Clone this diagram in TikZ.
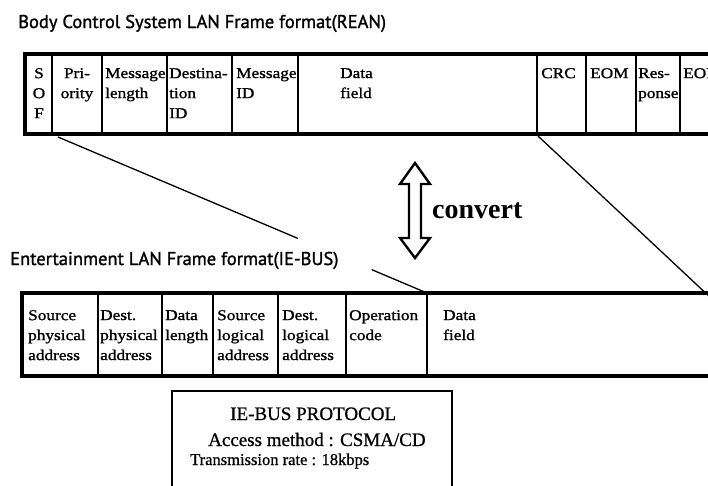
\documentclass[tikz,border=0pt]{standalone}
\usepackage{fontspec}
\setmainfont{Liberation Serif}
\newfontfamily\cellfont[FakeStretch=1.15,FakeBold=1.2]{Liberation Serif}
\newfontfamily\titlefont[FakeBold=1.3]{PT Sans}
\newfontfamily\boxfont[FakeBold=0.8]{Liberation Serif}
\usetikzlibrary{calc}
\begin{document}
\begin{tikzpicture}[x=1pt,y=-1pt,
  outer/.style={line width=3.6pt},
  divider/.style={line width=2pt},
  link/.style={line width=1.3pt},
  celltext/.style={font=\cellfont\fontsize{15}{20}\selectfont, anchor=north west, inner sep=0pt, align=left},
  cellmid/.style={celltext, anchor=north, align=center},
  titletext/.style={font=\titlefont\fontsize{18.5}{20}\selectfont, anchor=base west, inner sep=0pt},
  boxtext/.style={font=\boxfont\fontsize{19}{22}\selectfont, anchor=base west, inner sep=0pt}]
\useasboundingbox (0,0) rectangle (708,485);
\clip (0,0) rectangle (708,485);
\fill[white] (0,0) rectangle (708,485);

% titles
\node[titletext] (t1) at (18,28) {Body Control System LAN Frame format(REAN)};

% top frame (BEAN)
\draw[outer] (715,54) -- (25,54) -- (25,134) -- (715,134);
\foreach \x in {52,102,167,232,298,537,586,636,680}
  \draw[divider] (\x,54) -- (\x,134);
\node[cellmid]  (sof)  at (39,68)  {S\\O\\F};
\node[cellmid]  (pri)  at (77,68)  {Pri-\\ority};
\node[celltext] (mlen) at (105,68) {Message\\length};
\node[celltext] (dest) at (169,68) {Destina-\\tion\\ID};
\node[celltext] (mid)  at (236,68) {Message\\ID};
\node[celltext] (dat1) at (340,68) {Data\\field};
\node[celltext] (crc)  at (541,68) {CRC};
\node[celltext] (eom)  at (590,68) {EOM};
\node[celltext] (resp) at (638,68) {Res-\\ponse};
\node[celltext] (eof)  at (683,68) {EOF};

% bottom title
\node[titletext] (t2) at (10,265) {Entertainment LAN Frame format(IE-BUS)};

% bottom frame (IE-BUS)
\draw[outer] (715,293) -- (22,293) -- (22,376) -- (715,376);
\foreach \x in {98,162,213,278,346,427}
  \draw[divider] (\x,293) -- (\x,376);
\node[celltext] (sp)  at (28,310)  {Source\\physical\\address};
\node[celltext] (dp)  at (100,310) {Dest.\\physical\\address};
\node[celltext] (dl)  at (165,310) {Data\\length};
\node[celltext] (sl)  at (217,310) {Source\\logical\\address};
\node[celltext] (dlg) at (282,310) {Dest.\\logical\\address};
\node[celltext] (op)  at (349,310) {Operation\\code};
\node[celltext] (dat2) at (443,310) {Data\\field};

% connectors between the frames
\coordinate (a1) at (58,137);
\coordinate (a2) at (427,293);
\coordinate (b1) at (538,136);
\coordinate (b2) at (712,299);
\draw[link] (a1) -- ($(a1)!0.65!(a2)$);
\draw[link] ($(a1)!0.85!(a2)$) -- (a2);
\draw[link] (b1) -- (b2);

% convert arrow
\draw[line width=2.4pt, line join=miter]
  (415,163) -- (430,184) -- (421,184) -- (421,238) -- (430,238) -- (415,258)
  -- (400,238) -- (409,238) -- (409,184) -- (400,184) -- cycle;
\node[font=\bfseries\fontsize{28}{30}\selectfont, anchor=base west, inner sep=0pt] (conv) at (432,218) {convert};

% protocol box
\draw[line width=2pt] (172,391) rectangle (452,500);
\node[boxtext] (p1) at (230,420) {IE-BUS PROTOCOL};
\node[boxtext] (p2) at (208,446) {Access method : CSMA/CD};
\node[boxtext, font=\boxfont\fontsize{16.5}{20}\selectfont] (p3) at (190,465) {Transmission rate : 18kbps};
\end{tikzpicture}
\end{document}
